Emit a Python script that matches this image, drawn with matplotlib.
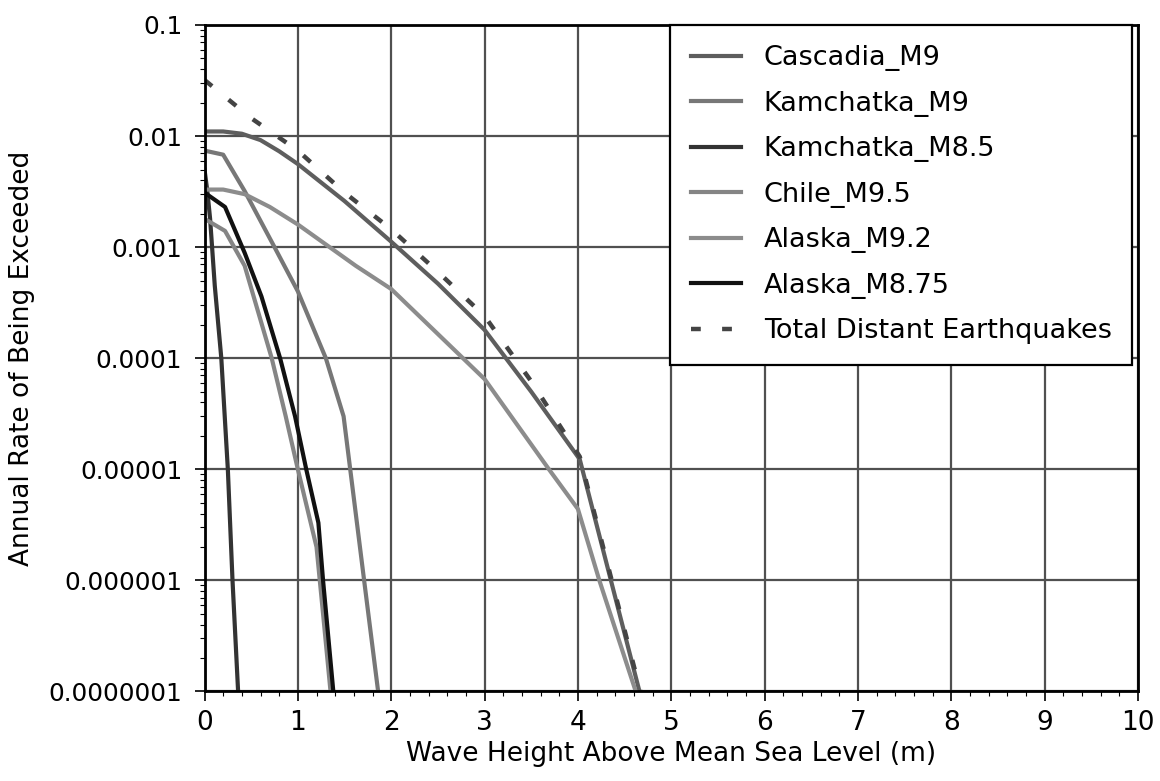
import numpy as np
import matplotlib
matplotlib.use("Agg")
import matplotlib.pyplot as plt
from matplotlib.ticker import MultipleLocator, LogLocator, NullFormatter

# wave height (m) vs annual exceedance rate
cascadia_x = [0, 0.2, 0.4, 0.6, 0.8, 1.0, 1.5, 2.0, 2.5, 3.0, 3.5, 4.02, 4.66]
cascadia_y = [0.011, 0.011, 0.0105, 0.0092, 0.0073, 0.0056, 0.0026, 0.00112,
              0.00047, 0.00018, 5.0e-5, 1.23e-5, 1e-7]

kam9_x = [0, 0.2, 0.43, 0.75, 1.0, 1.3, 1.49, 1.71, 1.86]
kam9_y = [0.0074, 0.0068, 0.0032, 0.001, 0.0004, 1e-4, 3e-5, 1e-6, 1e-7]

kam85_x = [0, 0.03, 0.06, 0.11, 0.18, 0.25, 0.30, 0.36]
kam85_y = [0.005, 0.0032, 0.0018, 0.00045, 1e-4, 1e-5, 1e-6, 1e-7]

chile_x = [0, 0.22, 0.43, 0.72, 0.87, 1.0, 1.2, 1.27, 1.35]
chile_y = [0.0018, 0.0014, 0.00068, 1e-4, 3e-5, 1e-5, 2e-6, 5e-7, 1e-7]

alaska92_x = [0, 0.2, 0.43, 0.7, 1.0, 1.62, 2.0, 3.0, 3.69, 4.0, 4.23, 4.62]
alaska92_y = [0.0033, 0.0033, 0.003, 0.0023, 0.0016, 0.00068, 0.00042,
              6.5e-5, 1e-5, 4.4e-6, 1e-6, 1e-7]

alaska875_x = [0, 0.22, 0.43, 0.61, 0.81, 0.97, 1.09, 1.22, 1.27, 1.38]
alaska875_y = [0.0031, 0.0023, 0.00089, 0.00036, 1e-4, 3e-5, 1e-5, 3.3e-6,
               1e-6, 1e-7]

total_x = [0, 0.5, 1.0, 1.5, 2.0, 2.5, 3.0, 3.5, 4.02, 4.67]
total_y = [0.032, 0.0145, 0.0074, 0.0031, 0.00145, 0.0006, 0.00024, 6.2e-5,
           1.3e-5, 1e-7]

ytick_vals = [1e-7, 1e-6, 1e-5, 1e-4, 1e-3, 1e-2, 1e-1]
ytick_labels = ["0.0000001", "0.000001", "0.00001", "0.0001", "0.001",
                "0.01", "0.1"]

plt.rcParams['font.family'] = ['DejaVu Sans']

fig = plt.figure(figsize=(11.6, 7.81), dpi=100)
ax = fig.add_axes([0.1763, 0.1146, 0.8047, 0.8534])

lw = 3
ax.plot(cascadia_x, cascadia_y, color='#5e5e5e', lw=lw, label='Cascadia_M9')
ax.plot(kam9_x, kam9_y, color='#777777', lw=lw, label='Kamchatka_M9')
ax.plot(kam85_x, kam85_y, color='#333333', lw=lw, label='Kamchatka_M8.5')
ax.plot(chile_x, chile_y, color='#858585', lw=lw, label='Chile_M9.5')
ax.plot(alaska92_x, alaska92_y, color='#8c8c8c', lw=lw, label='Alaska_M9.2')
ax.plot(alaska875_x, alaska875_y, color='#111111', lw=lw, label='Alaska_M8.75')
ax.plot(total_x, total_y, color='#444444', lw=3.2, linestyle=(0, (2.2, 4.8)),
        label='Total Distant Earthquakes')

ax.set_yscale('log')
ax.set_xlim(0, 10)
ax.set_ylim(1e-7, 0.1)

ax.set_xticks(range(0, 11))
ax.xaxis.set_minor_locator(MultipleLocator(0.2))
ax.set_yticks(ytick_vals)
ax.set_yticklabels(ytick_labels)
ax.yaxis.set_minor_locator(LogLocator(base=10, subs=np.arange(2, 10)))
ax.yaxis.set_minor_formatter(NullFormatter())

ax.tick_params(axis='x', which='major', direction='out', length=7, width=1.2,
               labelsize=19, pad=6)
ax.tick_params(axis='y', which='major', direction='out', length=7, width=1.2,
               labelsize=17.8, pad=9)
ax.tick_params(which='minor', direction='out', length=3.5, width=0.8)

ax.grid(True, which='major', color='#505050', lw=1.6)
for s in ax.spines.values():
    s.set_linewidth(2)
    s.set_color('black')

ax.set_xlabel('Wave Height Above Mean Sea Level (m)', fontsize=19, labelpad=4)
ax.set_ylabel('Annual Rate of Being Exceeded', fontsize=19)
ax.yaxis.set_label_coords(-0.182, 0.5)

leg = ax.legend(loc='upper right', bbox_to_anchor=(0.9936, 1.0),
                borderaxespad=0, fontsize=19.5, frameon=True, fancybox=False,
                framealpha=1, edgecolor='black', handlelength=1.85,
                handletextpad=0.85, labelspacing=0.72, borderpad=0.75)
leg.get_frame().set_linewidth(1.6)

fig.savefig('out.png', dpi=100)
